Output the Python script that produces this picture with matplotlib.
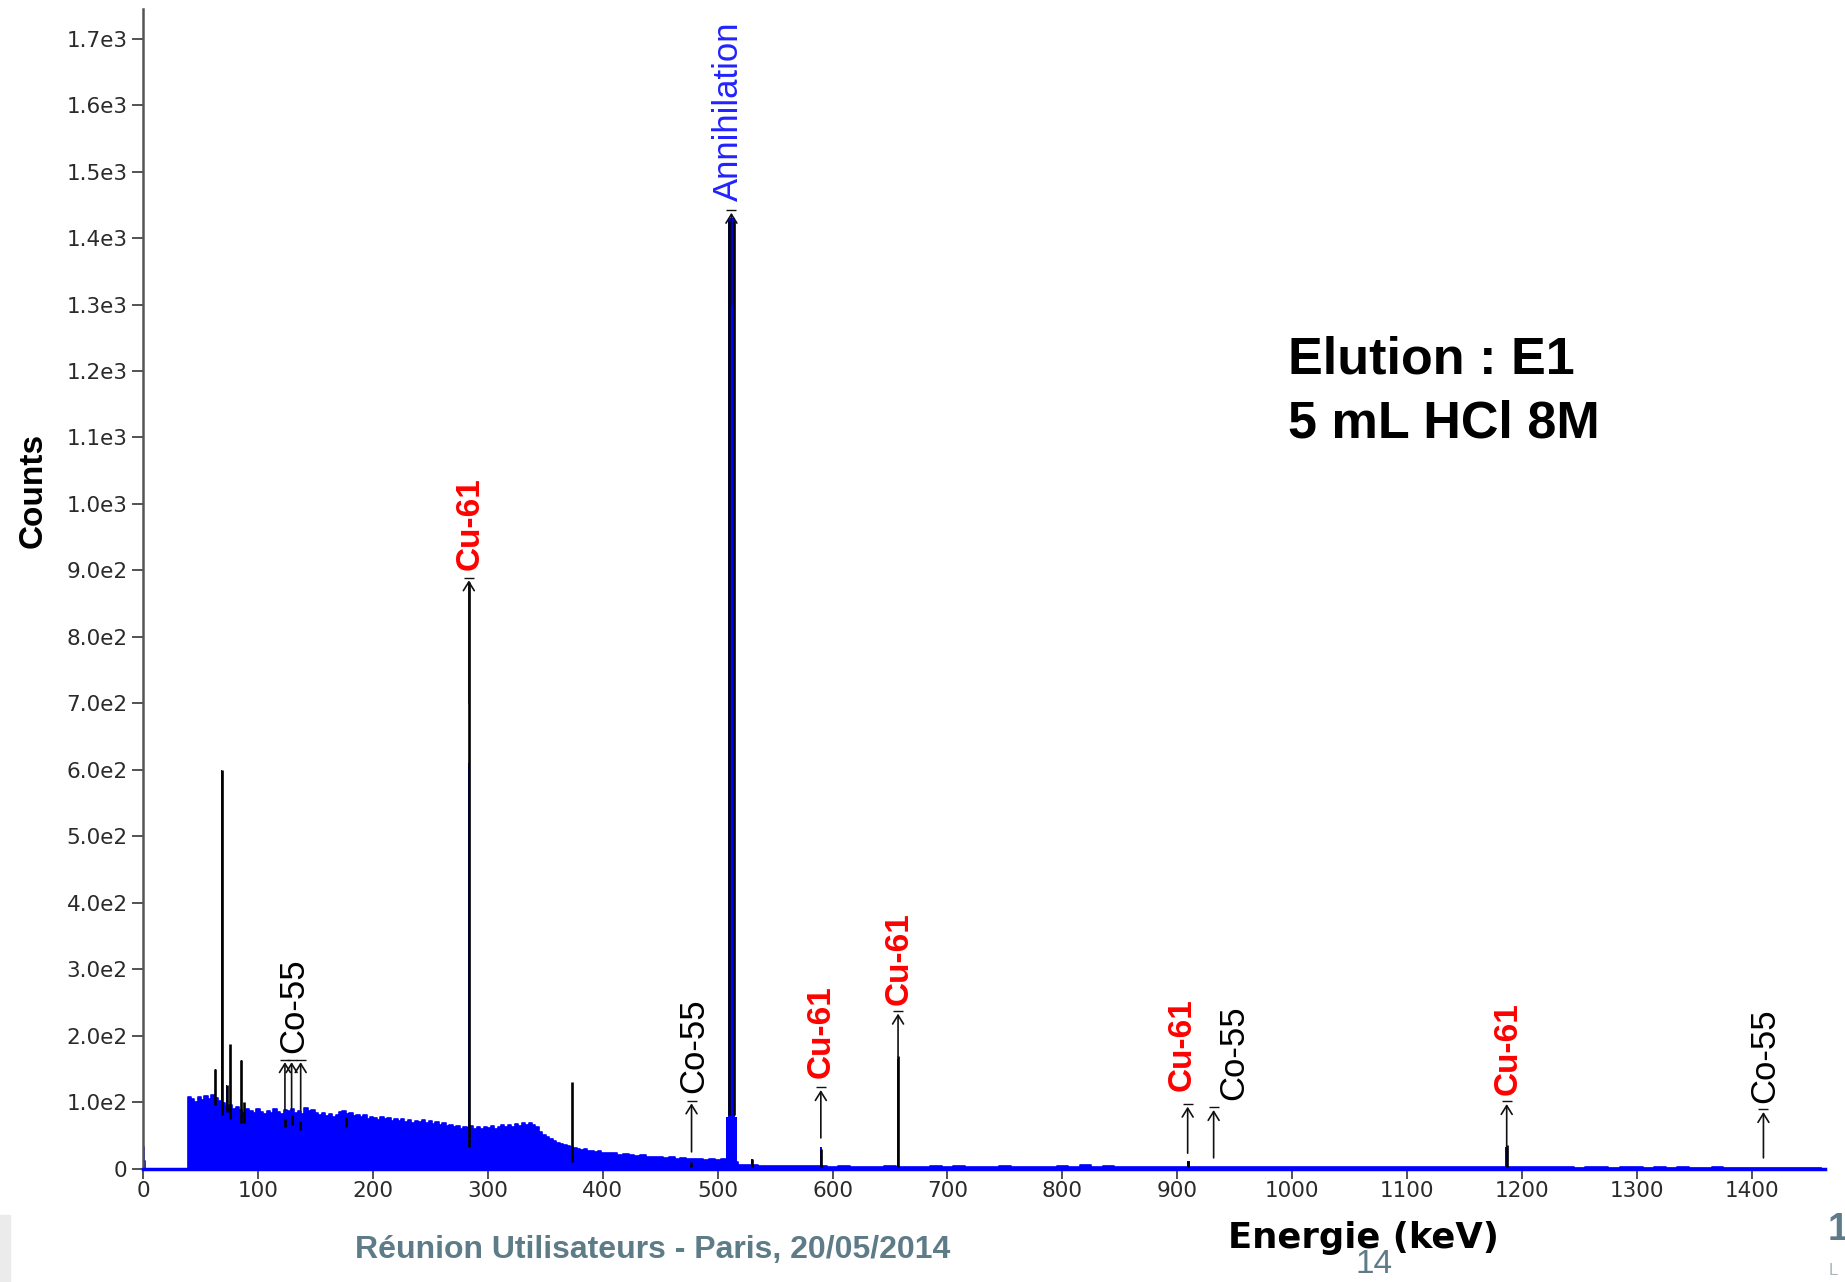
import numpy as np
import matplotlib
matplotlib.use('Agg')
import matplotlib.pyplot as plt
from matplotlib.patches import Rectangle

plt.rcParams['font.family'] = ['Liberation Sans', 'DejaVu Sans']

# Spectre : fond continu (energie en keV, coups)
e_debut = [0, 1, 2, 38]
c_debut = [32, 12, 0, 0]

e_bas = np.arange(40, 401, 3)
c_bas = [108, 104, 100, 107, 103, 109, 104, 110, 106, 102, 98, 94, 96, 90, 93, 88, 84, 90, 86, 83,
         89, 85, 82, 87, 84, 89, 85, 82, 88, 86, 90, 84, 87, 82, 91, 86, 88, 84, 80, 83,
         79, 82, 77, 81, 85, 86, 82, 84, 79, 81, 77, 80, 75, 78, 76, 73, 77, 74, 76, 72,
         75, 71, 74, 70, 73, 69, 72, 70, 73, 68, 71, 67, 70, 66, 68, 64, 66, 62, 64, 60,
         63, 61, 64, 60, 62, 59, 63, 61, 64, 60, 63, 65, 62, 66, 63, 67, 64, 68, 65, 68,
         66, 62, 55, 50, 47, 44, 41, 39, 37, 35, 34, 32, 31, 30, 28, 29, 26, 27, 25, 26,
         24]

e_moyen = np.arange(405, 521, 5)
c_moyen = [23, 24, 21, 22, 20, 19, 20, 18, 17, 18, 16, 17, 15, 16, 14, 15, 14, 13, 14, 13,
           14, 14, 10, 5]

e_haut = np.arange(530, 1461, 10)
c_haut = [5, 4.5, 4, 4, 3.5, 3.5, 3.5, 3, 3.5, 3,
          3, 3, 3.5, 3, 3, 3, 3.5, 3, 4, 3,
          3, 3, 3.5, 3, 3, 3, 3, 3.5, 3, 5,
          3, 4.5, 3, 3, 3, 2.5, 3, 2.5, 3, 3,
          2.5, 3, 2.5, 2.5, 3, 2.5, 2.5, 2.5, 2.5, 2,
          2.5, 2, 2.5, 2, 2, 2.5, 2, 2, 3, 2,
          2, 2, 2, 2.5, 2, 2, 2, 2, 2, 2,
          2, 2, 1.5, 2, 2, 1.5, 2, 2, 1.5, 2,
          1.5, 2, 1.5, 1.5, 2, 1.5, 1.5, 1.5, 1.5, 1.5,
          1.5, 1.5, 1.5, 1.5]

# Pics mesures (centre keV, hauteur, largeur keV)
pic_e = [63, 68.4, 73, 75.7, 85.5, 283.5, 373.7, 512, 512, 530, 589.8, 657, 909.6, 1186.5]
pic_h = [150, 600, 125, 187, 163, 610, 120, 78, 1430, 14, 32, 165, 12, 32]
pic_l = [0.8, 1.0, 0.8, 0.8, 0.8, 2.0, 1.0, 9, 5.5, 2, 2, 2, 2, 2]

# Ajustements des pics (traits noirs)
ajust_e = [63, 68.4, 73, 75.7, 85.5, 88, 123.5, 129.5, 137, 177, 283.5, 373.7, 477, 530,
           589.8, 657, 909.6, 1186.5, 509.5, 514.5]
ajust_bas = [95, 80, 85, 75, 68, 68, 62, 65, 58, 62, 33, 10, 3, 3, 3, 3, 3, 3, 80, 80]
ajust_haut = [150, 600, 125, 187, 163, 100, 75, 80, 72, 78, 882, 130, 10, 15, 30, 170, 12, 36,
              1425, 1425]

# Fleches d'identification
fleche_e = [123.5, 129.3, 137.2, 283.5, 512, 477.3, 589.8, 657, 909, 931.6, 1186.6, 1410]
fleche_bas = [88, 88, 88, 700, 1300, 25, 46, 168, 23, 16, 31, 16]
fleche_pointe = [160, 160, 160, 885, 1438, 98, 118, 233, 93, 88, 97, 85]

# Etiquettes des nucleides
etiq_txt = ['Co-55', 'Cu-61', 'Annihilation', 'Co-55', 'Cu-61', 'Cu-61', 'Cu-61', 'Co-55',
            'Cu-61', 'Co-55']
etiq_e = [131, 285, 509, 479.5, 590, 658, 904, 949, 1188, 1411]
etiq_y = [174, 900, 1455, 113, 136, 246, 116, 103, 111, 98]

xticks = list(range(0, 1401, 100))
xlabels = [str(v) for v in xticks]
yticks = list(range(0, 1701, 100))
ylabels = ['0', '1.0e2', '2.0e2', '3.0e2', '4.0e2', '5.0e2', '6.0e2', '7.0e2', '8.0e2', '9.0e2',
           '1.0e3', '1.1e3', '1.2e3', '1.3e3', '1.4e3', '1.5e3', '1.6e3', '1.7e3']

styles = {
    'Co-55': dict(color='black', fontweight='normal', fontsize=25),
    'Cu-61': dict(color='#ff0000', fontweight='bold', fontsize=24),
    'Annihilation': dict(color='#2222ff', fontweight='normal', fontsize=25),
}

bleu = '#0000ff'
ardoise = '#5e7b88'

fig = plt.figure(figsize=(18.45, 12.82), dpi=100)
ax = fig.add_axes([0.07751, 0.08853, 0.91192, 0.90413])

# Spectre
e_tout = np.concatenate([e_debut, e_bas, e_moyen, e_haut])
c_tout = np.concatenate([c_debut, c_bas, c_moyen, c_haut])
ax.fill_between(e_tout, 0, c_tout, step='mid', color=bleu, lw=0, zorder=2)
ax.plot(e_tout, c_tout, drawstyle='steps-mid', color=bleu, lw=1.2, zorder=2)
ax.bar(pic_e, pic_h, width=pic_l, color=bleu, lw=0, zorder=2)
ax.plot([0, 1464], [0, 0], color=bleu, lw=2.5, zorder=3, clip_on=False)

# Ajustements
ax.vlines(ajust_e, ajust_bas, ajust_haut, colors='black', lw=1.9, zorder=4)

# Fleches
for e, b, p in zip(fleche_e, fleche_bas, fleche_pointe):
    ax.annotate('', xy=(e, p), xytext=(e, b),
                arrowprops=dict(arrowstyle='->,head_length=0.45,head_width=0.28',
                                color='#111111', lw=1.2, shrinkA=0, shrinkB=0,
                                mutation_scale=14), zorder=5)
ax.plot(fleche_e, np.array(fleche_pointe) + 4, '_', ms=7, mew=1.0, color='#111111', zorder=5)

for t, e, y in zip(etiq_txt, etiq_e, etiq_y):
    ax.text(e, y, t, rotation=90, ha='center', va='bottom', zorder=6, **styles[t])

ax.set_xlim(0, 1464)
ax.set_ylim(0, 1744)
ax.set_xticks(xticks)
ax.set_xticklabels(xlabels, fontfamily='DejaVu Sans', fontsize=15.5, color='#2a2a2a')
ax.set_yticks(yticks)
ax.set_yticklabels(ylabels, fontfamily='DejaVu Sans', fontsize=15.5, color='#2a2a2a')
ax.tick_params(axis='x', direction='out', length=7, width=1.3, color='#444444', pad=2)
ax.tick_params(axis='y', direction='out', length=8, width=1.3, color='#444444', pad=3)

for s in ['top', 'right']:
    ax.spines[s].set_visible(False)
ax.spines['left'].set_color('#555555')
ax.spines['left'].set_linewidth(1.8)
ax.spines['bottom'].set_color('#333333')
ax.spines['bottom'].set_linewidth(1.2)

# Titres d'axes
fig.text(33 / 1845, 1 - 490 / 1282, 'Counts', rotation=90, ha='center', va='center',
         fontsize=24, fontweight='bold')
fig.text(1363 / 1845, 1 - 1248 / 1282, 'Energie (keV)', ha='center', va='baseline',
         fontsize=25.5, fontweight='bold', family='DejaVu Sans')

# Encadre
fig.text(1288 / 1845, 1 - 373 / 1282, 'Elution : E1', ha='left', va='baseline',
         fontsize=37.5, fontweight='bold')
fig.text(1288 / 1845, 1 - 437 / 1282, '5 mL HCl 8M', ha='left', va='baseline',
         fontsize=37.5, fontweight='bold')

# Pied de page de la diapositive
fig.patches.append(Rectangle((0, 0), 10 / 1845, 67 / 1282, transform=fig.transFigure,
                             color='#ebebeb', zorder=0))
fig.text(355 / 1845, 1 - 1258 / 1282, 'Réunion Utilisateurs - Paris, 20/05/2014',
         ha='left', va='baseline', fontsize=23, fontweight='bold', color=ardoise)
fig.text(1355 / 1845, 1 - 1273 / 1282, '14', ha='left', va='baseline', fontsize=24,
         color=ardoise)
fig.text(1828 / 1845, 1 - 1240 / 1282, '1', ha='left', va='baseline', fontsize=27,
         fontweight='bold', color=ardoise)
fig.text(1829 / 1845, 1 - 1275 / 1282, 'L', ha='left', va='baseline', fontsize=12,
         color='#aab4ba')

fig.savefig('out.png', dpi=100)
